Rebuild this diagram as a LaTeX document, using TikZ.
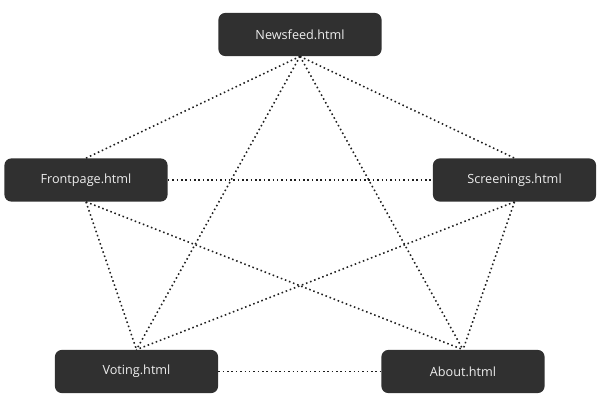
\documentclass[tikz,border=0pt]{standalone}
\usepackage{fontspec}
\setmainfont{Open Sans}
\usepackage{xcolor}
\usepackage{tikz}
\usetikzlibrary{positioning}
\definecolor{pagebox}{RGB}{48,48,48}
\definecolor{pagetext}{RGB}{238,238,238}
\definecolor{linkgray}{RGB}{30,30,30}

\begin{document}
\begin{tikzpicture}[
x=0.025cm,
y=-0.025cm,
page/.style={
fill=pagebox,
rounded corners=5pt,
minimum width=4.08cm,
minimum height=1.08cm,
inner sep=0pt,
text=pagetext,
font=\fontsize{9}{11}\selectfont
},
link/.style={
dotted,
line width=1.1pt,
color=linkgray
}
]

\useasboundingbox (0,0) rectangle (602,409);

\node[page] (news) at (300,34.5) {Newsfeed.html};
\node[page] (front) at (86,180) {Frontpage.html};
\node[page] (screen) at (514.5,180) {Screenings.html};
\node[page] (vote) at (136.5,371.5) {Voting.html};
\node[page] (about) at (463,371.5) {About.html};

\draw[link] (news.south) -- (front.north);
\draw[link] (news.south) -- (screen.north);
\draw[link] (news.south) -- (vote.north);
\draw[link] (news.south) -- (about.north);

\draw[link] (front.east) -- (screen.west);
\draw[link] (front.south) -- (vote.north);
\draw[link] (front.south) -- (about.north);

\draw[link] (screen.south) -- (vote.north);
\draw[link] (screen.south) -- (about.north);

\draw[link] (vote.east) -- (about.west);

\end{tikzpicture}
\end{document}
